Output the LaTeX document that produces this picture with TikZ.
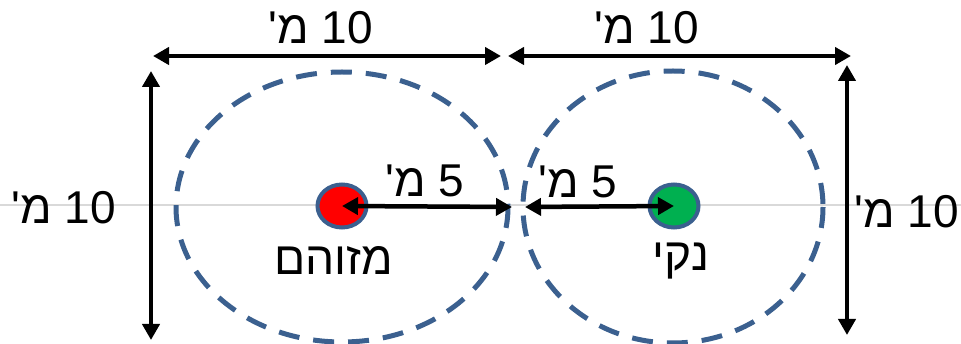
\documentclass[tikz,border=0pt]{standalone}
\usepackage{fontspec}
\setmainfont{Liberation Sans}
\newfontfamily\hebfont[Script=Hebrew]{Liberation Sans}
\TeXXeTstate=1
\usetikzlibrary{arrows.meta,shapes.geometric}
\definecolor{ringblue}{RGB}{59,96,143}
\definecolor{dotred}{RGB}{255,0,0}
\definecolor{dotgreen}{RGB}{0,176,80}
\definecolor{axisgray}{RGB}{217,217,217}
\tikzset{
  dim/.style={line width=4.5pt, {Triangle[length=16pt,width=17pt]}-{Triangle[length=16pt,width=17pt]}},
  zone/.style={draw=ringblue, line width=5pt, dash pattern=on 21pt off 14pt},
  spot/.style={ellipse, draw=ringblue, line width=4pt, minimum width=49pt, minimum height=43pt, inner sep=0pt},
  lbl/.style={font=\hebfont\fontsize{46}{50}\selectfont, inner sep=0pt, text=black}
}
\begin{document}
\begin{tikzpicture}[x=1pt,y=-1pt]
\useasboundingbox (0,0) rectangle (961,344);
% faint horizontal axis
\draw[axisgray, line width=2pt] (0,205) -- (961,205);
% zones
\draw[zone] (342,207) ellipse [x radius=166, y radius=135];
\draw[zone] (673,207) ellipse [x radius=150, y radius=136];
% spots
\node[spot, fill=dotred] (red) at (342,206) {};
\node[spot, fill=dotgreen] (green) at (674,206) {};
% coordinates
\coordinate (tl1) at (153,56);
\coordinate (tl2) at (501,56);
\coordinate (tr1) at (508,56);
\coordinate (tr2) at (851,56);
\coordinate (vl1) at (151,71);
\coordinate (vl2) at (151,340);
\coordinate (vr1) at (847,65);
\coordinate (vr2) at (847,335);
\coordinate (ml) at (512,207);
\coordinate (mr) at (525,207);
% dimension arrows
\draw[dim] (tl1) -- (tl2);
\draw[dim] (tr1) -- (tr2);
\draw[dim] (vl1) -- (vl2);
\draw[dim] (vr1) -- (vr2);
\draw[dim] (red.center) -- (ml);
\draw[dim] (mr) -- (green.center);
% labels
\node[lbl] (ttl) at (321,28) {\beginR\beginL 10\endL{} מ\textquotesingle\endR};
\node[lbl] (ttr) at (647,28) {\beginR\beginL 10\endL{} מ\textquotesingle\endR};
\node[lbl] (lbl10l) at (64,208) {\beginR\beginL 10\endL{} מ\textquotesingle\endR};
\node[lbl] (lbl10r) at (907,212) {\beginR\beginL 10\endL{} מ\textquotesingle\endR};
\node[lbl] (lbl5l) at (425,181) {\beginR\beginL 5\endL{} מ\textquotesingle\endR};
\node[lbl] (lbl5r) at (578,182) {\beginR\beginL 5\endL{} מ\textquotesingle\endR};
\node[lbl] (dirty) at (334,260) {\beginR מזוהם\endR};
\node[lbl] (clean) at (681,261) {\beginR נקי\endR};
\end{tikzpicture}
\end{document}
